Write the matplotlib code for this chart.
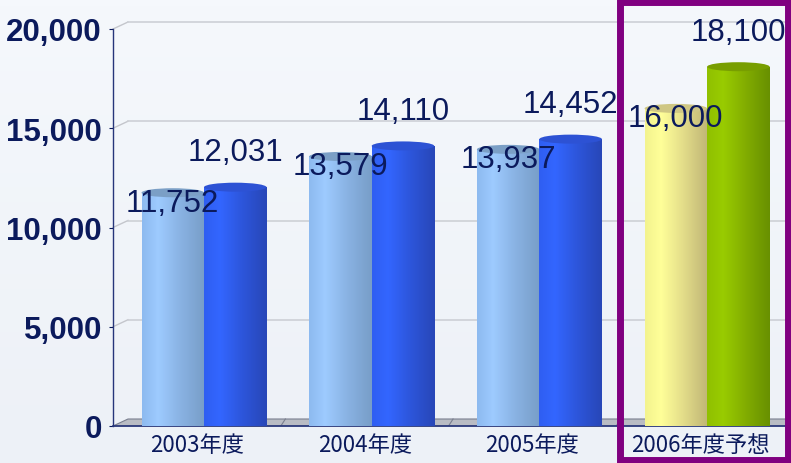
import numpy as np
import matplotlib.pyplot as plt
from matplotlib.colors import LinearSegmentedColormap
from matplotlib.patches import Ellipse, Rectangle, Polygon

# data
categories = ['2003年度', '2004年度', '2005年度', '2006年度予想']
series_a = [11752, 13579, 13937, 16000]
series_b = [12031, 14110, 14452, 18100]
y_ticks = [0, 5000, 10000, 15000, 20000]
y_ticklabels = ['0', '5,000', '10,000', '15,000', '20,000']

navy = '#0b1a5c'

# cylinder shading: left, highlight, mid, right edge, top cap
shade_a = ['#8dbaf0', '#9ecbff', '#8ab3e4', '#789ec8', '#7b9fc6']
shade_b = ['#2f5ef2', '#3366ff', '#2d56dc', '#2847b8', '#2d52d4']
shade_a_fc = ['#f3f38e', '#ffff99', '#e4de8a', '#c0b676', '#cfc784']
shade_b_fc = ['#90c000', '#99cc00', '#83ae00', '#689000', '#789e00']

W, H = 791, 464
fig = plt.figure(figsize=(W / 100, H / 100), dpi=100)

# soft background
bg = fig.add_axes([0, 0, 1, 1], zorder=-10)
bg.imshow(np.linspace(0, 1, 64).reshape(-1, 1), aspect='auto', extent=[0, 1, 0, 1],
          cmap=LinearSegmentedColormap.from_list('bg', ['#f5f8fc', '#edf1f7']))
bg.axis('off')

ax = fig.add_axes([113 / W, 37 / H, (W - 113) / W, 397 / H])
ax.patch.set_alpha(0)

px_x = 167.7                 # pixels per category
px_y = 397 / 20000           # pixels per unit
xmin = -(204 - 113) / px_x
xmax = xmin + (W - 113) / px_x
w = 62.5 / px_x
dx = 15 / px_x               # depth of back wall
dy = 7 / px_y
cap_h = 9 / px_y

# back wall grid and floor
for v in y_ticks[1:]:
    ax.plot([xmin, xmin + dx], [v, v + dy], color='#c4c6cc', lw=1, clip_on=False, zorder=1)
    ax.plot([xmin + dx, xmax], [v + dy, v + dy], color='#cdd0d6', lw=1.2, clip_on=False, zorder=1)
ax.add_patch(Polygon([(xmin, 0), (xmin + dx, dy), (xmax, dy), (xmax, 0)], closed=True,
                     facecolor='#b9bcc4', edgecolor='#7a7f8f', lw=0.8, zorder=2, clip_on=False))
for i in range(len(categories) - 1):
    xs = i + 0.5 - 7 / px_x
    ax.plot([xs, xs + dx * 0.3], [0, dy], color='#7a7f8f', lw=0.8, zorder=2)


def cylinder(x, h, shade, z):
    bar = ax.bar(x, h, width=w, color=shade[1], edgecolor='none', zorder=z)[0]
    cmap = LinearSegmentedColormap.from_list(
        'cyl', [(0, shade[0]), (0.25, shade[1]), (0.6, shade[2]), (1, shade[3])])
    im = ax.imshow(np.linspace(0, 1, 64).reshape(1, -1), cmap=cmap, aspect='auto',
                   extent=[x - w / 2, x + w / 2, 0, h], zorder=z + 0.1)
    im.set_clip_path(bar)
    ax.add_patch(Ellipse((x, h), w, cap_h, facecolor=shade[4], edgecolor='none', zorder=z + 0.2))


for i, (va, vb) in enumerate(zip(series_a, series_b)):
    sa = shade_a_fc if i == 3 else shade_a
    sb = shade_b_fc if i == 3 else shade_b
    cylinder(i - w / 2, va, sa, 3)
    cylinder(i + w / 2, vb, sb, 4)

for i, (va, vb) in enumerate(zip(series_a, series_b)):
    ax.annotate(f'{va:,}', (i - w / 2, va), xytext=(0, -10), textcoords='offset pixels',
                ha='center', va='center', fontsize=22.5, family='Liberation Sans',
                color=navy, zorder=10)
    ax.annotate(f'{vb:,}', (i + w / 2, vb), xytext=(0, 35), textcoords='offset pixels',
                ha='center', va='center', fontsize=22.5, family='Liberation Sans',
                color=navy, zorder=10)

ax.set_xlim(xmin, xmax)
ax.set_ylim(0, 20000)
ax.set_yticks(y_ticks)
ax.set_yticklabels(y_ticklabels, fontsize=22.5, fontweight='bold',
                   family='Liberation Sans', color=navy)
ax.set_xticks(np.arange(len(categories)) - 7 / px_x)
ax.set_xticklabels(categories, fontsize=16, family='Noto Sans CJK JP', color=navy)
ax.tick_params(axis='y', direction='out', length=3, color=navy, pad=5)
ax.tick_params(axis='x', length=0, pad=5)
for s in ['top', 'right']:
    ax.spines[s].set_visible(False)
ax.spines['left'].set_color('#26357a')
ax.spines['bottom'].set_color('#26357a')
ax.spines['left'].set_linewidth(1)
ax.spines['bottom'].set_linewidth(1.2)

# highlight frame around the forecast year
fig.patches.append(Rectangle((620 / W, 3 / H), (788 - 620) / W, (461 - 3) / H,
                             transform=fig.transFigure, fill=False,
                             edgecolor='#800080', linewidth=5, zorder=20))

fig.savefig('out.png', dpi=100, facecolor=fig.get_facecolor())
